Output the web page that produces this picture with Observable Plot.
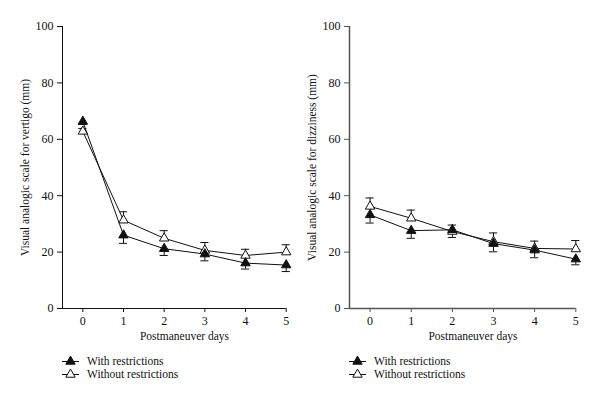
<!DOCTYPE html>
<html>
<head>
<meta charset="utf-8">
<script src="https://cdn.jsdelivr.net/npm/d3@7"></script>
<script src="https://cdn.jsdelivr.net/npm/@observablehq/plot@0.6"></script>
<style>
  body { margin: 0; background: #fff; font-family: "Liberation Serif", "DejaVu Serif", serif; }
  #wrap { display: flex; width: 600px; }
  .panel { width: 300px; }
  .legend { padding-top: 8px; font-size: 11.5px; color: #111; }
  .row { height: 13.5px; display: flex; align-items: center; }
  .row svg { margin-right: 5px; }
</style>
</head>
<body>
<div id="wrap">
  <div class="panel" id="p1"></div>
  <div class="panel" id="p2"></div>
</div>
<script>
const days = [0, 1, 2, 3, 4, 5];
const yTicks = [0, 20, 40, 60, 80, 100];
const seriesNames = ["With restrictions", "Without restrictions"];
const xTitle = "Postmaneuver days";
const vertigoTitle = "Visual analogic scale for vertigo (mm)";
const dizzinessTitle = "Visual analogic scale for dizziness (mm)";

// Vertigo panel
const vertigoWith = [66.3, 26.0, 21.2, 19.3, 16.1, 15.4];
const vertigoWithErr = [1.0, 2.9, 2.4, 2.4, 2.1, 2.3];
const vertigoWithout = [62.8, 31.3, 24.9, 20.6, 18.8, 20.0];
const vertigoWithoutErr = [1.0, 3.0, 2.7, 2.8, 2.2, 2.6];

// Dizziness panel
const dizzWith = [33.2, 27.6, 27.9, 23.0, 20.7, 17.5];
const dizzWithErr = [2.9, 2.7, 2.7, 2.9, 2.7, 2.0];
const dizzWithout = [36.2, 32.0, 27.3, 23.7, 21.3, 21.1];
const dizzWithoutErr = [3.0, 2.9, 2.3, 3.1, 2.6, 3.0];

function rows(vals, errs, dir) {
  return days.map((d, i) => ({day: d, v: vals[i], e: vals[i] + dir * errs[i]}));
}

function panel({withV, withE, withoutV, withoutE, title, marginLeft, marginRight, axisColor, axisWidth}) {
  const W = rows(withV, withE, -1);
  const O = rows(withoutV, withoutE, +1);
  const capHalf = 0.1;
  return Plot.plot({
    width: 300,
    height: 346,
    marginTop: 26,
    marginBottom: 38,
    marginLeft,
    marginRight,
    style: {fontFamily: "Liberation Serif", fontSize: "12px", color: "#111", background: "#fff"},
    x: {domain: [-0.5, 5], label: null},
    y: {domain: [0, 100], label: null},
    marks: [
      Plot.axisY({ticks: yTicks, tickSize: 5, tickPadding: 4, label: null, stroke: axisColor, fontSize: 12, tickFormat: d3.format("d")}),
      Plot.axisX({ticks: days, tickSize: 4, tickPadding: 4, label: null, stroke: axisColor, fontSize: 12, tickFormat: d3.format("d")}),
      Plot.ruleX([-0.5], {stroke: axisColor, strokeWidth: axisWidth}),
      Plot.ruleY([0], {stroke: axisColor, strokeWidth: axisWidth}),
      // error bars
      Plot.ruleX(O, {x: "day", y1: "v", y2: "e", stroke: "#111", strokeWidth: 1}),
      Plot.ruleY(O, {y: "e", x1: d => d.day - capHalf, x2: d => d.day + capHalf, stroke: "#111", strokeWidth: 1}),
      Plot.ruleX(W, {x: "day", y1: "v", y2: "e", stroke: "#111", strokeWidth: 1}),
      Plot.ruleY(W, {y: "e", x1: d => d.day - capHalf, x2: d => d.day + capHalf, stroke: "#111", strokeWidth: 1}),
      // lines
      Plot.line(O, {x: "day", y: "v", stroke: "#111", strokeWidth: 1}),
      Plot.line(W, {x: "day", y: "v", stroke: "#111", strokeWidth: 1}),
      // markers
      Plot.dot(O, {x: "day", y: "v", symbol: "triangle", r: 3.5, fill: "#fff", stroke: "#111", strokeWidth: 1}),
      Plot.dot(W, {x: "day", y: "v", symbol: "triangle", r: 3.5, fill: "#111", stroke: "#111", strokeWidth: 1}),
      // titles
      Plot.text([xTitle], {x: 2.5, frameAnchor: "bottom", dy: 31, fontSize: 11.5, fill: "#111"}),
      Plot.text([title], {frameAnchor: "left", textAnchor: "middle", lineAnchor: "middle", dx: -37, rotate: -90, fontSize: 11.5, fill: "#111"})
    ]
  });
}

function legend(padLeft) {
  const div = document.createElement("div");
  div.className = "legend";
  div.style.paddingLeft = padLeft + "px";
  seriesNames.forEach((name, i) => {
    const row = document.createElement("div");
    row.className = "row";
    const svg = d3.create("svg").attr("width", 20).attr("height", 12);
    svg.append("line").attr("x1", 0).attr("x2", 17).attr("y1", 6.5).attr("y2", 6.5).attr("stroke", "#111");
    svg.append("path").attr("d", d3.symbol(d3.symbolTriangle, 38)())
      .attr("transform", "translate(8.5,6.5)")
      .attr("fill", i === 0 ? "#111" : "#fff").attr("stroke", "#111");
    row.appendChild(svg.node());
    const t = document.createElement("span");
    t.textContent = name;
    row.appendChild(t);
    div.appendChild(row);
  });
  return div;
}

const p1 = document.getElementById("p1");
p1.appendChild(panel({withV: vertigoWith, withE: vertigoWithErr, withoutV: vertigoWithout, withoutE: vertigoWithoutErr,
  title: vertigoTitle, marginLeft: 62, marginRight: 14.3, axisColor: "#111", axisWidth: 1}));
p1.appendChild(legend(62));

const p2 = document.getElementById("p2");
p2.appendChild(panel({withV: dizzWith, withE: dizzWithErr, withoutV: dizzWithout, withoutE: dizzWithoutErr,
  title: dizzinessTitle, marginLeft: 49, marginRight: 24.7, axisColor: "#555", axisWidth: 1.5}));
p2.appendChild(legend(49));
</script>
</body>
</html>
